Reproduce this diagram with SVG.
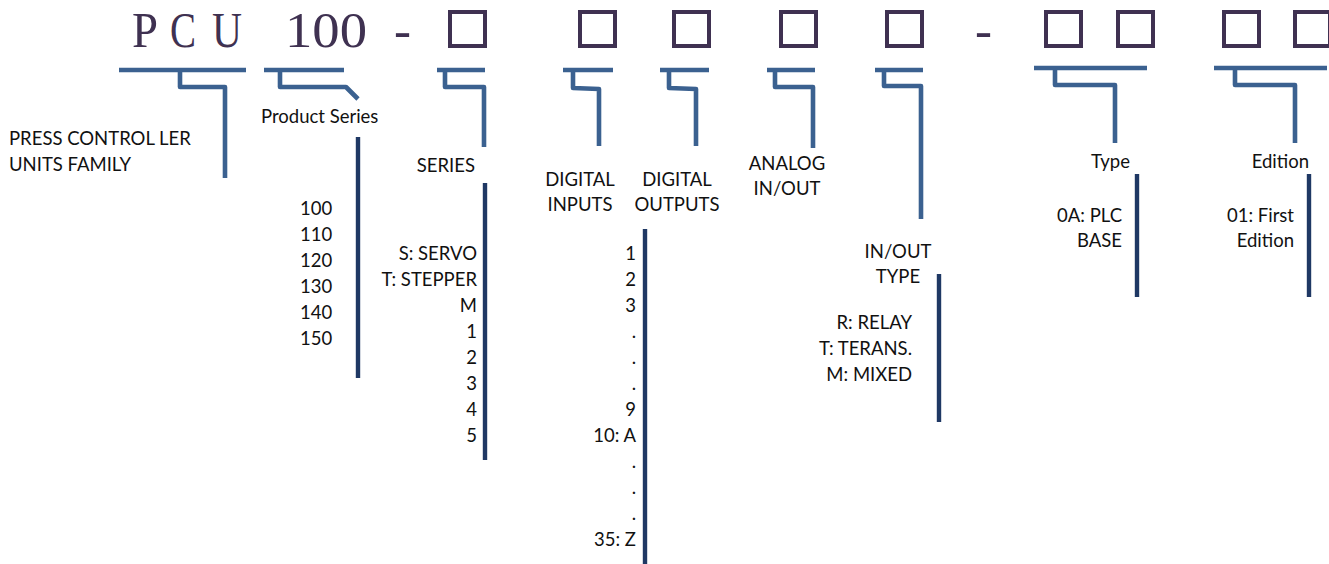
<svg xmlns="http://www.w3.org/2000/svg" width="1329" height="564" viewBox="0 0 1329 564">
<style>
.hd{font-family:"Liberation Serif","DejaVu Serif",serif;font-size:51px;fill:#3f3151}
.bx{fill:none;stroke:#3f3151;stroke-width:4}
.br{fill:none;stroke:#3b6190;stroke-width:4.6;stroke-linejoin:round}
.dv{stroke:#1f3864;stroke-width:4.4}
.t{font-family:Lato,"Noto Sans",sans-serif;font-size:18.5px;fill:#111}
.r{text-anchor:end}
.m{text-anchor:middle}
</style>
<rect width="1329" height="564" fill="#fff"/>
<g id="header">
<text class="hd" x="132" y="47" textLength="26" lengthAdjust="spacingAndGlyphs">P</text>
<text class="hd" x="170" y="47" textLength="26" lengthAdjust="spacingAndGlyphs">C</text>
<text class="hd" x="212" y="47" textLength="30" lengthAdjust="spacingAndGlyphs">U</text>
<text class="hd" x="285" y="47" textLength="82" lengthAdjust="spacingAndGlyphs">100</text>
<text class="hd" x="394" y="47">-</text>
<text class="hd" x="975" y="47">-</text>
<rect class="bx" x="450" y="12" width="35" height="34"/>
<rect class="bx" x="580" y="12" width="35" height="34"/>
<rect class="bx" x="674" y="12" width="35" height="34"/>
<rect class="bx" x="781" y="12" width="35" height="34"/>
<rect class="bx" x="887" y="12" width="35" height="34"/>
<rect class="bx" x="1046" y="12" width="35" height="34"/>
<rect class="bx" x="1118" y="12" width="35" height="34"/>
<rect class="bx" x="1224" y="12" width="35" height="34"/>
<rect class="bx" x="1295" y="12" width="35" height="34"/>
</g>
<g id="connectors">
<path class="br" d="M119,70H246M180,70V87H225V178"/>
<path class="br" d="M264,70H344M280,70V87H346L358,99"/>
<path class="br" d="M437,70H485M445,70V87H484V147"/>
<path class="br" d="M563,70H613M573,70V88L599,89V146"/>
<path class="br" d="M660,70H709M669,70V88L696,89V146"/>
<path class="br" d="M767,70H815M775,70V87H813V148"/>
<path class="br" d="M875,70H923M884,70V86H921V219"/>
<path class="br" d="M1034,68H1147M1055,68V85H1115V143"/>
<path class="br" d="M1214,68H1327M1235,68V85H1295V143"/>
<line class="dv" x1="358" y1="137" x2="358" y2="378"/>
<line class="dv" x1="485" y1="183" x2="485" y2="460"/>
<line class="dv" x1="645" y1="229" x2="645" y2="564"/>
<line class="dv" x1="939" y1="274" x2="939" y2="422"/>
<line class="dv" x1="1137" y1="174" x2="1137" y2="297"/>
<line class="dv" x1="1309" y1="174" x2="1309" y2="297"/>
</g>
<g id="family">
<text class="t" x="9" y="145">PRESS CONTROL LER</text>
<text class="t" x="9" y="171">UNITS FAMILY</text>
</g>
<g id="product-series">
<text class="t" x="261" y="123">Product Series</text>
<text class="t" x="300" y="215">100</text>
<text class="t" x="300" y="241">110</text>
<text class="t" x="300" y="267">120</text>
<text class="t" x="300" y="293">130</text>
<text class="t" x="300" y="319">140</text>
<text class="t" x="300" y="345">150</text>
</g>
<g id="series">
<text class="t r" x="475" y="172">SERIES</text>
<text class="t r" x="477" y="260">S: SERVO</text>
<text class="t r" x="477" y="286">T: STEPPER</text>
<text class="t r" x="477" y="312">M</text>
<text class="t r" x="477" y="338">1</text>
<text class="t r" x="477" y="364">2</text>
<text class="t r" x="477" y="390">3</text>
<text class="t r" x="477" y="416">4</text>
<text class="t r" x="477" y="442">5</text>
</g>
<g id="digital-inputs">
<text class="t m" x="580" y="186">DIGITAL</text>
<text class="t m" x="580" y="211">INPUTS</text>
</g>
<g id="digital-outputs">
<text class="t m" x="677" y="186">DIGITAL</text>
<text class="t m" x="677" y="211">OUTPUTS</text>
<text class="t r" x="636" y="260">1</text>
<text class="t r" x="636" y="286">2</text>
<text class="t r" x="636" y="312">3</text>
<text class="t r" x="636" y="338">.</text>
<text class="t r" x="636" y="364">.</text>
<text class="t r" x="636" y="390">.</text>
<text class="t r" x="636" y="416">9</text>
<text class="t r" x="636" y="442">10: A</text>
<text class="t r" x="636" y="468">.</text>
<text class="t r" x="636" y="494">.</text>
<text class="t r" x="636" y="520">.</text>
<text class="t r" x="636" y="546">35: Z</text>
</g>
<g id="analog">
<text class="t m" x="787" y="170">ANALOG</text>
<text class="t m" x="787" y="195">IN/OUT</text>
</g>
<g id="io-type">
<text class="t m" x="898" y="258">IN/OUT</text>
<text class="t m" x="898" y="283">TYPE</text>
<text class="t r" x="912" y="329">R: RELAY</text>
<text class="t r" x="912" y="355">T: TERANS.</text>
<text class="t r" x="912" y="381">M: MIXED</text>
</g>
<g id="type">
<text class="t r" x="1130" y="168">Type</text>
<text class="t r" x="1122" y="222">0A: PLC</text>
<text class="t r" x="1122" y="247">BASE</text>
</g>
<g id="edition">
<text class="t r" x="1309" y="168">Edition</text>
<text class="t r" x="1294" y="222">01: First</text>
<text class="t r" x="1294" y="247">Edition</text>
</g>
</svg>
